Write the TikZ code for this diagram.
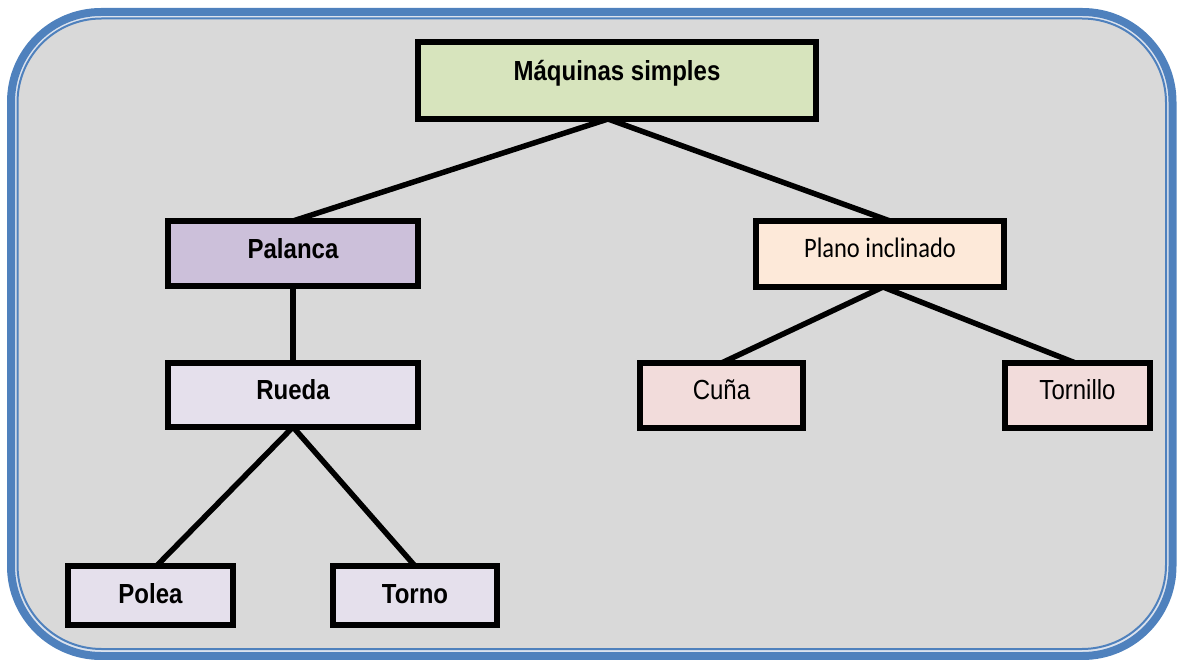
\documentclass[tikz,border=0pt]{standalone}
\usepackage{graphicx}
\usepackage{fontspec}
\setmainfont{Liberation Sans}
\newfontfamily\calibrifont{Carlito}
\definecolor{frameblue}{HTML}{4F81BD}
\definecolor{framegap}{HTML}{DCE3EE}
\definecolor{panelgray}{HTML}{D9D9D9}
\definecolor{rootgreen}{HTML}{D7E4BD}
\definecolor{levergrape}{HTML}{CCC0DA}
\definecolor{lilac}{HTML}{E5E0EC}
\definecolor{peach}{HTML}{FDE9D9}
\definecolor{rose}{HTML}{F2DCDB}
% labels are set slightly taller than wide
\newcommand{\vstretch}[1]{\scalebox{1}[1.15]{#1}}
\tikzset{
  box/.style={draw=black, line width=5.5pt, inner sep=0pt, outer sep=0pt,
    anchor=north west, text height=37pt, font=\fontsize{24}{28}\selectfont},
  boldbox/.style={box, font=\fontsize{24}{28}\selectfont\bfseries},
  link/.style={draw=black, line width=5.5pt},
}
\begin{document}
\begin{tikzpicture}[x=1pt,y=-1pt]
\useasboundingbox (0,0) rectangle (1179,660);
% rounded frame with double blue border
\draw[frameblue, line width=8pt, fill=framegap, rounded corners=90pt] (11,12) rectangle (1172.5,656);
\draw[frameblue, line width=2pt, fill=panelgray, rounded corners=84pt] (17.5,18.5) rectangle (1166,649);
% boxes
\node[boldbox, fill=rootgreen, minimum width=398pt, text height=39pt, text depth=38pt] (root) at (418,42) {\vstretch{Máquinas simples}};
\node[boldbox, fill=levergrape, minimum width=250pt, text height=38pt, text depth=27pt] (lever) at (168,221) {\vstretch{Palanca}};
\node[boldbox, fill=lilac, minimum width=250pt, text depth=27pt] (wheel) at (168,363) {\vstretch{Rueda}};
\node[box, fill=peach, minimum width=248pt, text depth=29pt, font=\fontsize{24.5}{28}\selectfont\calibrifont] (plane) at (756,221) {\vstretch{Plano inclinado}};
\node[box, fill=rose, minimum width=163pt, text depth=28pt] (wedge) at (640,363) {\vstretch{Cuña}};
\node[box, fill=rose, minimum width=145pt, text depth=28pt] (screw) at (1005,363) {\vstretch{Tornillo}};
\node[boldbox, fill=lilac, minimum width=165pt, text depth=22pt] (pulley) at (68,566) {\vstretch{Polea}};
\node[boldbox, fill=lilac, minimum width=164pt, text depth=22pt] (winch) at (333,566) {\vstretch{Torno}};
% connectors
\draw[link] ([xshift=-9pt]root.south) -- (lever.north);
\draw[link] ([xshift=-9pt]root.south) -- ([xshift=10pt]plane.north);
\draw[link] (lever.south) -- (wheel.north);
\draw[link] (wheel.south) -- ([xshift=6pt]pulley.north);
\draw[link] (wheel.south) -- (winch.north);
\draw[link] ([xshift=3pt]plane.south) -- (wedge.north);
\draw[link] ([xshift=3pt]plane.south) -- ([xshift=-2pt]screw.north);
\end{tikzpicture}
\end{document}
